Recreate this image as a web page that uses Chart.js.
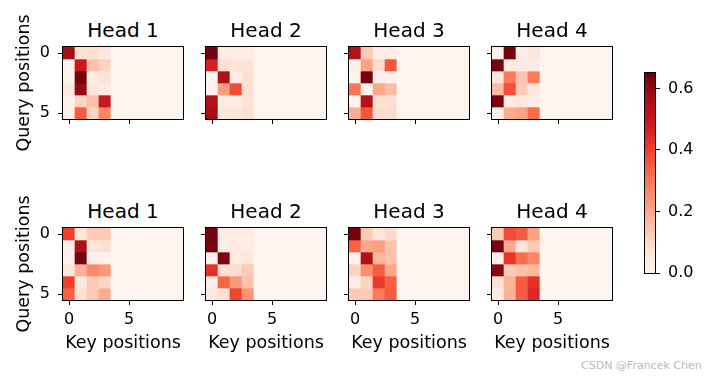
<!DOCTYPE html>
<html><head><meta charset="utf-8">
<script src="https://cdn.jsdelivr.net/npm/chart.js@4.4.1/dist/chart.umd.min.js"></script>
<style>
html,body{margin:0;padding:0;background:#fff;}
body{width:722px;height:378px;position:relative;overflow:hidden;font-family:"DejaVu Sans",sans-serif;}
canvas{position:absolute;}
.title{position:absolute;width:160px;text-align:center;font-size:20px;line-height:20px;color:#000;white-space:nowrap;}
.wm{position:absolute;left:581px;top:359px;font-size:11px;line-height:13px;color:#bbb;white-space:nowrap;}
</style></head><body>
<div class="wm">CSDN @Francek Chen</div>
<script>
// ---------- data ----------
const headTitles = ['Head 1', 'Head 2', 'Head 3', 'Head 4'];
const queryPositions = [0, 1, 2, 3, 4, 5];
const keyPositions = [0, 1, 2, 3, 4, 5, 6, 7, 8, 9];
const xTickValues = [0, 5];
const yTickValues = [0, 5];
const colorbarTicks = [0.0, 0.2, 0.4, 0.6];
const colorMax = 0.65;

// top row (layer 1)
const layer1Head1 = [
  [0.57, 0.08, 0.08, 0.05, 0, 0, 0, 0, 0, 0],
  [0.01, 0.49, 0.15, 0.11, 0, 0, 0, 0, 0, 0],
  [0.01, 0.63, 0.04, 0.07, 0, 0, 0, 0, 0, 0],
  [0.05, 0.59, 0.06, 0.04, 0, 0, 0, 0, 0, 0],
  [0.02, 0.11, 0.15, 0.50, 0, 0, 0, 0, 0, 0],
  [0.02, 0.35, 0.11, 0.27, 0, 0, 0, 0, 0, 0]
];
const layer1Head2 = [
  [0.64, 0.03, 0.03, 0.03, 0, 0, 0, 0, 0, 0],
  [0.47, 0.08, 0.07, 0.07, 0, 0, 0, 0, 0, 0],
  [0.00, 0.55, 0.03, 0.08, 0, 0, 0, 0, 0, 0],
  [0.01, 0.22, 0.38, 0.08, 0, 0, 0, 0, 0, 0],
  [0.55, 0.04, 0.04, 0.07, 0, 0, 0, 0, 0, 0],
  [0.57, 0.05, 0.06, 0.08, 0, 0, 0, 0, 0, 0]
];
const layer1Head3 = [
  [0.54, 0.13, 0.04, 0.035, 0, 0, 0, 0, 0, 0],
  [0.02, 0.21, 0.09, 0.36, 0, 0, 0, 0, 0, 0],
  [0.01, 0.63, 0.02, 0.02, 0, 0, 0, 0, 0, 0],
  [0.30, 0.02, 0.20, 0.16, 0, 0, 0, 0, 0, 0],
  [0.01, 0.54, 0.08, 0.08, 0, 0, 0, 0, 0, 0],
  [0.19, 0.36, 0.09, 0.09, 0, 0, 0, 0, 0, 0]
];
const layer1Head4 = [
  [0.02, 0.63, 0.04, 0.06, 0, 0, 0, 0, 0, 0],
  [0.63, 0.04, 0.04, 0.03, 0, 0, 0, 0, 0, 0],
  [0.06, 0.29, 0.14, 0.29, 0, 0, 0, 0, 0, 0],
  [0.16, 0.37, 0.13, 0.06, 0, 0, 0, 0, 0, 0],
  [0.63, 0.04, 0.05, 0.03, 0, 0, 0, 0, 0, 0],
  [0.02, 0.19, 0.21, 0.32, 0, 0, 0, 0, 0, 0]
];
// bottom row (layer 2)
const layer2Head1 = [
  [0.40, 0.06, 0.13, 0.13, 0, 0, 0, 0, 0, 0],
  [0.02, 0.55, 0.06, 0.08, 0, 0, 0, 0, 0, 0],
  [0.02, 0.63, 0.02, 0.02, 0, 0, 0, 0, 0, 0],
  [0.06, 0.18, 0.26, 0.23, 0, 0, 0, 0, 0, 0],
  [0.40, 0.05, 0.13, 0.10, 0, 0, 0, 0, 0, 0],
  [0.34, 0.08, 0.13, 0.19, 0, 0, 0, 0, 0, 0]
];
const layer2Head2 = [
  [0.63, 0.03, 0.04, 0.04, 0, 0, 0, 0, 0, 0],
  [0.63, 0.03, 0.04, 0.04, 0, 0, 0, 0, 0, 0],
  [0.01, 0.62, 0.04, 0.05, 0, 0, 0, 0, 0, 0],
  [0.43, 0.08, 0.09, 0.13, 0, 0, 0, 0, 0, 0],
  [0.02, 0.33, 0.23, 0.15, 0, 0, 0, 0, 0, 0],
  [0.05, 0.08, 0.39, 0.24, 0, 0, 0, 0, 0, 0]
];
const layer2Head3 = [
  [0.63, 0.13, 0.06, 0.09, 0, 0, 0, 0, 0, 0],
  [0.34, 0.20, 0.22, 0.15, 0, 0, 0, 0, 0, 0],
  [0.01, 0.55, 0.17, 0.15, 0, 0, 0, 0, 0, 0],
  [0.11, 0.25, 0.35, 0.20, 0, 0, 0, 0, 0, 0],
  [0.04, 0.11, 0.41, 0.34, 0, 0, 0, 0, 0, 0],
  [0.13, 0.13, 0.29, 0.35, 0, 0, 0, 0, 0, 0]
];
const layer2Head4 = [
  [0.13, 0.38, 0.35, 0.21, 0, 0, 0, 0, 0, 0],
  [0.63, 0.20, 0.06, 0.13, 0, 0, 0, 0, 0, 0],
  [0.02, 0.42, 0.32, 0.27, 0, 0, 0, 0, 0, 0],
  [0.61, 0.13, 0.15, 0.17, 0, 0, 0, 0, 0, 0],
  [0.08, 0.18, 0.35, 0.43, 0, 0, 0, 0, 0, 0],
  [0.04, 0.18, 0.35, 0.45, 0, 0, 0, 0, 0, 0]
];
const layerMatrices = [
  [layer1Head1, layer1Head2, layer1Head3, layer1Head4],
  [layer2Head1, layer2Head2, layer2Head3, layer2Head4]
];

// ---------- layout / style ----------
const panelX = [63, 206, 349, 492];
const panelY = [47, 228];
const FONT = 'DejaVu Sans';
const REDS = [[255,245,240],[254,224,210],[252,187,161],[252,146,114],[251,106,74],[239,59,44],[203,24,29],[165,15,21],[103,0,13]];
function reds(t) {
  t = Math.max(0, Math.min(1, t));
  const s = t * 8, i = Math.min(7, Math.floor(s)), f = s - i;
  const a = REDS[i], b = REDS[i + 1];
  return 'rgb(' + [0,1,2].map(k => Math.round(a[k] + (b[k] - a[k]) * f)).join(',') + ')';
}
const framePlugin = {
  id: 'frame',
  afterDatasetsDraw(chart) {
    const a = chart.chartArea, c = chart.ctx;
    c.save(); c.strokeStyle = '#000'; c.lineWidth = 1;
    c.strokeRect(a.left - 0.5, a.top - 0.5, a.right - a.left + 1, a.bottom - a.top + 1);
    c.restore();
  }
};
Chart.defaults.font.family = FONT;

function addCanvas(left, top, w, h) {
  const cv = document.createElement('canvas');
  cv.width = w; cv.height = h;
  cv.style.left = left + 'px'; cv.style.top = top + 'px';
  cv.style.width = w + 'px'; cv.style.height = h + 'px';
  document.body.appendChild(cv);
  return cv;
}

function makePanel(mat, li, hi) {
  const t = document.createElement('div');
  t.className = 'title';
  t.textContent = headTitles[hi];
  t.style.left = (panelX[hi] + 60 - 80) + 'px';
  t.style.top = (panelY[li] - 27) + 'px';
  document.body.appendChild(t);

  const cv = addCanvas(panelX[hi] - 60, panelY[li] - 40, 190, 172);
  const datasets = queryPositions.map((q, r) => ({
    data: keyPositions.map(k => ({ x: k, y: [q - 0.5, q + 0.5] })),
    backgroundColor: keyPositions.map((k, c) => reds(mat[r][c] / colorMax)),
    borderWidth: 0, barPercentage: 1, categoryPercentage: 1, grouped: false
  }));
  new Chart(cv, {
    type: 'bar',
    data: { datasets },
    options: {
      responsive: false, animation: false, events: [], devicePixelRatio: 1,
      layout: { padding: { top: 40, right: 10, left: 0, bottom: 0 } },
      plugins: { legend: { display: false }, tooltip: { enabled: false } },
      scales: {
        x: {
          type: 'linear', min: -0.5, max: 9.5, offset: false,
          afterBuildTicks: s => { s.ticks = xTickValues.map(v => ({ value: v })); },
          afterFit: s => { s.height = 60; s.paddingLeft = 0; s.paddingRight = 0; },
          grid: { display: true, drawOnChartArea: false, drawTicks: true, tickLength: 5, tickColor: '#000', tickWidth: 1, offset: false },
          border: { display: false },
          ticks: { display: li === 1, color: '#000', font: { size: 16 }, padding: 5, maxRotation: 0, autoSkip: false },
          title: { display: li === 1, text: 'Key positions', color: '#000', font: { size: 17.5 }, padding: { top: 0, bottom: 6 } }
        },
        y: {
          type: 'linear', min: -0.5, max: 5.5, reverse: true, offset: false,
          afterBuildTicks: s => { s.ticks = yTickValues.map(v => ({ value: v })); },
          afterFit: s => { s.width = 60; s.paddingTop = 0; s.paddingBottom = 0; },
          grid: { display: true, drawOnChartArea: false, drawTicks: true, tickLength: 5, tickColor: '#000', tickWidth: 1, offset: false },
          border: { display: false },
          ticks: { display: hi === 0, color: '#000', font: { size: 16 }, padding: 8, autoSkip: false },
          title: { display: hi === 0, text: 'Query positions', color: '#000', font: { size: 17.5 }, padding: { top: 10.5, bottom: 0 } }
        }
      }
    },
    plugins: [framePlugin]
  });
}

layerMatrices.forEach((row, li) => row.forEach((mat, hi) => makePanel(mat, li, hi)));

// colorbar
const cbCanvas = addCanvas(640, 63, 82, 220);
new Chart(cbCanvas, {
  type: 'bar',
  data: {
    labels: [''],
    datasets: [{
      data: [[0, colorMax]],
      borderWidth: 0, barPercentage: 1, categoryPercentage: 1,
      backgroundColor: ctx => {
        const ch = ctx.chart, a = ch.chartArea;
        if (!a) return 'rgba(0,0,0,0)';
        const g = ch.ctx.createLinearGradient(0, a.bottom, 0, a.top);
        REDS.forEach((c, i) => g.addColorStop(i / 8, 'rgb(' + c.join(',') + ')'));
        return g;
      }
    }]
  },
  options: {
    responsive: false, animation: false, events: [], devicePixelRatio: 1,
    layout: { padding: { top: 10, right: 0, left: 5, bottom: 10 } },
    plugins: { legend: { display: false }, tooltip: { enabled: false } },
    scales: {
      x: { display: false },
      y: {
        position: 'right', min: 0, max: colorMax, grace: 0,
        afterBuildTicks: s => { s.ticks = colorbarTicks.map(v => ({ value: v })); },
        afterFit: s => { s.width = 67; s.paddingTop = 0; s.paddingBottom = 0; },
        grid: { display: true, drawOnChartArea: false, drawTicks: true, tickLength: 5, tickColor: '#000', tickWidth: 1 },
        border: { display: false },
        ticks: { color: '#000', font: { size: 16 }, padding: 8, callback: v => Number(v).toFixed(1) }
      }
    }
  },
  plugins: [framePlugin]
});
</script>
</body></html>
